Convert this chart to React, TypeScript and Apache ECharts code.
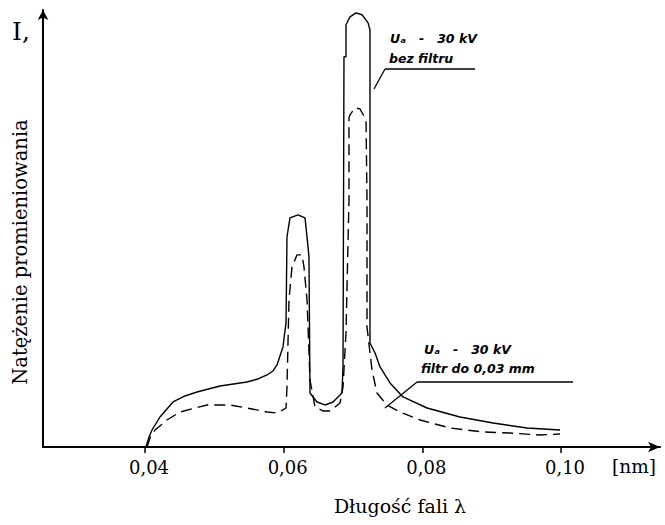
import React, { useEffect, useRef } from "react";
import * as echarts from "echarts";

// Wavelength (nm) and relative intensity
const solidLambda = [
  0.04014, 0.04058, 0.04101, 0.04216, 0.04404, 0.04577, 0.0475, 0.05082, 0.05471, 0.0563,
  0.0576, 0.05846, 0.05904, 0.0599, 0.06034, 0.06048, 0.06091, 0.06207, 0.06308, 0.06337,
  0.06365, 0.0638, 0.06481, 0.06596, 0.06712, 0.06841, 0.06856, 0.0687, 0.06899, 0.06899,
  0.06957, 0.07043, 0.0713, 0.07217, 0.07245, 0.07245, 0.07318, 0.0739, 0.07534, 0.07721,
  0.08068, 0.08543, 0.0902, 0.0951, 0.09986,
];
const solidIntensity = [
  0, 2.28, 3.87, 6.83, 10.25, 11.62, 12.53, 13.9, 14.81, 15.49,
  16.4, 17.31, 18.68, 22.78, 28.25, 47.84, 52.16, 52.85, 52.16, 47.84,
  43.28, 12.3, 10.25, 9.57, 10.25, 12.3, 18.22, 88.84, 88.84, 96.13,
  97.95, 98.86, 98.41, 96.58, 94.99, 23.69, 21.41, 18.22, 14.58, 11.39,
  8.88, 6.83, 5.47, 4.33, 3.87,
];
const dashedLambda = [
  0.04029, 0.04072, 0.04144, 0.04317, 0.04505, 0.04894, 0.05226, 0.05471, 0.0576, 0.05904,
  0.06034, 0.06048, 0.06077, 0.0612, 0.06192, 0.06265, 0.06293, 0.06337, 0.0638, 0.06452,
  0.06567, 0.06668, 0.06813, 0.06856, 0.06899, 0.06942, 0.06942, 0.06957, 0.07029, 0.07101,
  0.07188, 0.07202, 0.07202, 0.07274, 0.07346, 0.0749, 0.07678, 0.07967, 0.08399, 0.08875,
  0.09265, 0.09697, 0.09986,
];
const dashedIntensity = [
  0, 2.05, 3.87, 6.15, 7.97, 9.57, 9.57, 8.88, 7.97, 7.74,
  8.88, 13.67, 33.49, 41.0, 43.74, 43.74, 41.0, 33.49, 15.26, 9.11,
  8.2, 8.2, 10.02, 13.67, 25.97, 56.26, 74.94, 75.63, 77.22, 76.99,
  74.49, 56.26, 27.33, 17.54, 12.3, 9.57, 7.97, 6.15, 4.33, 3.42,
  3.19, 2.73, 2.96,
];

const xTickValues = [0.04, 0.06, 0.08, 0.1];
const xMin = 0.025289;
const xMax = 0.11428;
const yMax = 99.5;

const yAxisTitle = "Natężenie promieniowania";
const xAxisTitle = "Długość fali λ";
const unitLabel = "[nm]";
const intensitySymbol = "I,";
const noteTop = ["Uₐ   -   30 kV", "bez filtru"];
const noteBottom = ["Uₐ   -   30 kV", "filtr do 0,03 mm"];

const SERIF = "'DejaVu Serif', 'Liberation Serif', serif";
const NOTE_FONT = "'DejaVu Sans', sans-serif";

function pairs(xs: number[], ys: number[]) {
  return xs.map((x, i) => [x, ys[i]]);
}

function txt(x: number, y: number, text: string, opts: any = {}) {
  const align = opts.align || "left";
  const vAlign = opts.vAlign || "middle";
  return {
    type: "text",
    x,
    y,
    rotation: opts.rotation || 0,
    style: {
      text,
      fill: "#000",
      fontFamily: opts.family || SERIF,
      fontSize: opts.size || 18,
      fontStyle: opts.italic ? "italic" : "normal",
      fontWeight: opts.bold ? "bold" : "normal",
      align,
      textAlign: align,
      verticalAlign: vAlign,
      textVerticalAlign: vAlign,
    },
  };
}

function seg(x1: number, y1: number, x2: number, y2: number) {
  return {
    type: "line",
    shape: { x1, y1, x2, y2 },
    style: { stroke: "#000", lineWidth: 1.3 },
  };
}

export default function App() {
  const ref = useRef<HTMLDivElement>(null);

  useEffect(() => {
    if (!ref.current) return;
    const chart = echarts.init(ref.current, undefined, { renderer: "svg" });
    const noteOpts = { family: NOTE_FONT, size: 12.5, bold: true, italic: true };
    chart.setOption({
      animation: false,
      backgroundColor: "#fff",
      grid: { left: 43, right: 5, top: 10, bottom: 78, containLabel: false },
      xAxis: {
        type: "value",
        min: xMin,
        max: xMax,
        axisLine: {
          show: true,
          symbol: ["none", "arrow"],
          symbolSize: [8, 12],
          lineStyle: { color: "#000", width: 2 },
        },
        axisTick: {
          show: true,
          inside: false,
          length: 6,
          customValues: xTickValues,
          lineStyle: { color: "#000", width: 1.5 },
        },
        axisLabel: {
          show: true,
          customValues: xTickValues,
          margin: 11,
          padding: [0, 0, 0, 8],
          color: "#000",
          fontFamily: SERIF,
          fontSize: 18,
          formatter: (v: number) => v.toFixed(2).replace(".", ","),
        },
        splitLine: { show: false },
      },
      yAxis: {
        type: "value",
        min: 0,
        max: yMax,
        axisLine: {
          show: true,
          symbol: ["none", "arrow"],
          symbolSize: [8, 10],
          lineStyle: { color: "#000", width: 2 },
        },
        axisTick: { show: false },
        axisLabel: { show: false },
        splitLine: { show: false },
      },
      series: [
        {
          type: "line",
          name: "Uₐ - 30 kV, bez filtru",
          data: pairs(solidLambda, solidIntensity),
          showSymbol: false,
          symbol: "none",
          lineStyle: { color: "#000", width: 1.4, type: "solid" },
        },
        {
          type: "line",
          name: "Uₐ - 30 kV, filtr do 0,03 mm",
          data: pairs(dashedLambda, dashedIntensity),
          showSymbol: false,
          symbol: "none",
          lineStyle: { color: "#000", width: 1.4, type: [11, 6] },
        },
      ],
      graphic: [
        txt(12, 31, intensitySymbol, { size: 25 }),
        txt(20, 252, yAxisTitle, { size: 19.5, rotation: Math.PI / 2, align: "center" }),
        txt(400, 506, xAxisTitle, { size: 19, align: "center" }),
        txt(634, 466, unitLabel, { size: 18.5, align: "center" }),
        txt(390, 38, noteTop[0], noteOpts),
        txt(389, 58, noteTop[1], noteOpts),
        seg(385, 69, 475, 69),
        seg(385, 69, 374, 89),
        txt(424, 349, noteBottom[0], noteOpts),
        txt(421, 368, noteBottom[1], noteOpts),
        seg(417, 382, 573, 382),
        seg(417, 382, 385, 408),
      ],
    });
    return () => chart.dispose();
  }, []);

  return (
    <div
      ref={ref}
      style={{ position: "fixed", left: 0, top: 0, width: 665, height: 525, background: "#fff" }}
    />
  );
}
